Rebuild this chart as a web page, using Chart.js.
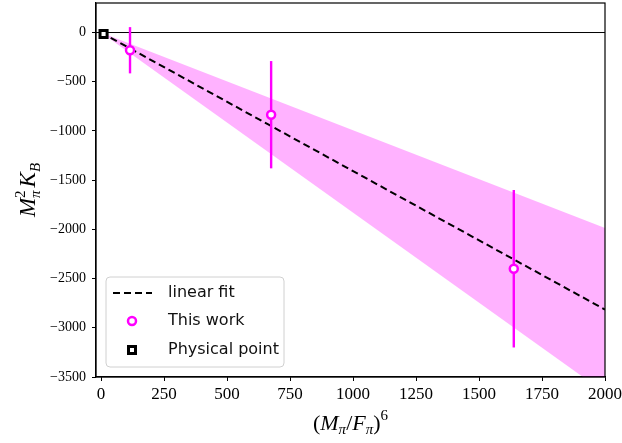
<!DOCTYPE html>
<html>
<head>
<meta charset="utf-8">
<script src="https://cdn.jsdelivr.net/npm/chart.js@4/dist/chart.umd.min.js"></script>
<style>
  html, body { margin: 0; padding: 0; background: #fff; overflow: hidden; }
  #wrap { width: 622px; height: 443px; overflow: hidden; }
  #chart { display: block; margin-top: -5px; }
</style>
</head>
<body>
<div id="wrap"><canvas id="chart" width="622" height="448"></canvas></div>
<script>
// ---------------- data ----------------
const workX = [115, 675, 1638];
const workY = [-180, -835, -2400];
const workErr = [235, 545, 800];

const physX = [10];
const physY = [-15];

const fitX = [0, 2000];
const fitY = [0, -2815];
const bandUpper = [0, -1985];
const bandLower = [0, -3660];

const xTicks = [0, 250, 500, 750, 1000, 1250, 1500, 1750, 2000];
const yTicks = [0, -500, -1000, -1500, -2000, -2500, -3000, -3500];

const MAGENTA = "#ff00ff";
const SERIF = "'Liberation Serif', 'DejaVu Serif', serif";
const SANS = "'DejaVu Sans', sans-serif";

const pts = (xs, ys) => xs.map((x, i) => ({ x: x, y: ys[i] }));

// ---------------- datasets ----------------
const datasets = [
    {
        label: "This work",
        data: pts(workX, workY),
        showLine: false,
        pointStyle: "circle",
        pointRadius: 4,
        pointBorderWidth: 2.5,
        pointBackgroundColor: "#ffffff",
        pointBorderColor: MAGENTA,
        order: 0
    },
    {
        label: "Physical point",
        data: pts(physX, physY),
        showLine: false,
        pointStyle: "rect",
        pointRadius: 5,
        pointBorderWidth: 3,
        pointBackgroundColor: "#ffffff",
        pointBorderColor: "#000000",
        order: 0
    },
    {
        label: "linear fit",
        data: pts(fitX, fitY),
        showLine: true,
        borderColor: "#000000",
        borderWidth: 2,
        borderDash: [7, 4],
        pointRadius: 0,
        order: 2
    },
    {
        label: "zero",
        data: pts([-20, 2000], [0, 0]),
        showLine: true,
        borderColor: "#000000",
        borderWidth: 1,
        pointRadius: 0,
        order: 3
    },
    {
        label: "band upper",
        data: pts(fitX, bandUpper),
        showLine: true,
        borderWidth: 0,
        borderColor: "rgba(0,0,0,0)",
        backgroundColor: "rgba(255,0,255,0.3)",
        fill: "+1",
        pointRadius: 0,
        order: 5
    },
    {
        label: "band lower",
        data: pts(fitX, bandLower),
        showLine: true,
        borderWidth: 0,
        borderColor: "rgba(0,0,0,0)",
        pointRadius: 0,
        fill: false,
        order: 5
    }
];

// error bars, one segment per point
workX.forEach((x, i) => {
    datasets.push({
        label: "err" + i,
        data: [
            { x: x, y: workY[i] - workErr[i] },
            { x: x, y: workY[i] + workErr[i] }
        ],
        showLine: true,
        borderColor: MAGENTA,
        borderWidth: 2.4,
        pointRadius: 0,
        fill: false,
        order: 1
    });
});

// ---------------- helpers ----------------
function minusLabel(v) {
    return v < 0 ? "\u2212" + Math.abs(v) : String(v);
}

// draw a run of math pieces: [text, italic, dy, size, advance]
function drawMath(ctx, pieces, cx, cy) {
    const fontOf = p => (p[1] ? "italic " : "") + p[3] + "px " + SERIF;
    let total = 0;
    pieces.forEach(p => {
        ctx.font = fontOf(p);
        if (p[4] !== false) total += ctx.measureText(p[0]).width;
    });
    let x = cx - total / 2;
    ctx.textBaseline = "alphabetic";
    ctx.textAlign = "left";
    pieces.forEach(p => {
        ctx.font = fontOf(p);
        ctx.fillText(p[0], x, cy + p[2]);
        if (p[4] !== false) x += ctx.measureText(p[0]).width;
    });
}

// canvas is shifted up by 5px, so page y = canvas y - 5
const OFF = 5;

// frame, axis titles and legend box
const decorPlugin = {
    id: "decor",
    afterDraw(chart) {
        const ctx = chart.ctx;
        const a = chart.chartArea;
        ctx.save();

        // frame
        ctx.strokeStyle = "#000";
        ctx.lineWidth = 1.2;
        ctx.strokeRect(a.left, a.top, a.right - a.left, a.bottom - a.top);

        ctx.fillStyle = "#000";

        // x title  (M_pi / F_pi)^6
        drawMath(ctx, [
            ["(", false, 0, 22],
            ["M", true, 0, 22],
            ["\u03c0", true, 4, 15],
            ["/", false, 0, 22],
            ["F", true, 0, 22],
            ["\u03c0", true, 4, 15],
            [")", false, 0, 22],
            ["6", false, -10, 15]
        ], (a.left + a.right) / 2, 430 + OFF);

        // y title  M_pi^2 K_B
        ctx.save();
        ctx.translate(27, (a.top + a.bottom) / 2);
        ctx.rotate(-Math.PI / 2);
        drawMath(ctx, [
            ["M", true, 0, 23],
            ["2", false, -10, 15, false],
            ["\u03c0", true, 5, 15],
            ["\u2009", false, 0, 15],
            ["K", true, 0, 23],
            ["B", true, 5, 15]
        ], 0, 8);
        ctx.restore();

        // legend
        const lx = 106, ly = 277 + OFF, lw = 178, lh = 90;
        ctx.beginPath();
        ctx.roundRect(lx, ly, lw, lh, 4);
        ctx.fillStyle = "rgba(255,255,255,0.85)";
        ctx.fill();
        ctx.strokeStyle = "#d0d0d0";
        ctx.lineWidth = 1;
        ctx.stroke();

        const rows = [
            { label: "linear fit", y: 293 + OFF },
            { label: "This work", y: 321 + OFF },
            { label: "Physical point", y: 350 + OFF }
        ];

        // dashed sample
        ctx.beginPath();
        ctx.setLineDash([7, 4]);
        ctx.strokeStyle = "#000";
        ctx.lineWidth = 2;
        ctx.moveTo(113, rows[0].y);
        ctx.lineTo(152, rows[0].y);
        ctx.stroke();
        ctx.setLineDash([]);

        // circle sample
        ctx.beginPath();
        ctx.arc(132, rows[1].y, 4, 0, Math.PI * 2);
        ctx.fillStyle = "#fff";
        ctx.fill();
        ctx.strokeStyle = MAGENTA;
        ctx.lineWidth = 2.5;
        ctx.stroke();

        // square sample
        ctx.beginPath();
        ctx.rect(132 - 3.5, rows[2].y - 3.5, 7, 7);
        ctx.fillStyle = "#fff";
        ctx.fill();
        ctx.strokeStyle = "#000";
        ctx.lineWidth = 3;
        ctx.stroke();

        ctx.fillStyle = "#111";
        ctx.font = "16px " + SANS;
        ctx.textAlign = "left";
        ctx.textBaseline = "middle";
        rows.forEach(r => ctx.fillText(r.label, 168, r.y));

        ctx.restore();
    }
};

// ---------------- chart ----------------
new Chart(document.getElementById("chart").getContext("2d"), {
    type: "scatter",
    data: { datasets: datasets },
    options: {
        responsive: false,
        animation: false,
        layout: { padding: { left: 0, right: 17, top: 0, bottom: 0 } },
        plugins: {
            legend: { display: false },
            tooltip: { enabled: false }
        },
        scales: {
            x: {
                type: "linear",
                min: -20,
                max: 2000,
                afterBuildTicks: s => { s.ticks = xTicks.map(v => ({ value: v })); },
                afterFit: s => {
                    s.height = 66;
                    s.paddingLeft = 0;
                    s.paddingRight = 0;
                },
                grid: {
                    drawOnChartArea: false,
                    drawTicks: true,
                    tickLength: 4,
                    tickColor: "#000"
                },
                border: { display: true, color: "#000", width: 1.2 },
                ticks: {
                    color: "#000",
                    padding: 3,
                    maxRotation: 0,
                    font: { family: SERIF, size: 17 },
                    callback: v => minusLabel(v)
                }
            },
            y: {
                type: "linear",
                min: -3500,
                max: 300,
                afterBuildTicks: s => { s.ticks = yTicks.map(v => ({ value: v })); },
                afterFit: s => {
                    s.width = 96;
                    s.paddingTop = 0;
                    s.paddingBottom = 0;
                },
                grid: {
                    drawOnChartArea: false,
                    drawTicks: true,
                    tickLength: 4,
                    tickColor: "#000"
                },
                border: { display: true, color: "#000", width: 1.2 },
                ticks: {
                    color: "#000",
                    padding: 6,
                    font: { family: SERIF, size: 14 },
                    callback: v => minusLabel(v)
                }
            }
        }
    },
    plugins: [decorPlugin]
});
</script>
</body>
</html>
